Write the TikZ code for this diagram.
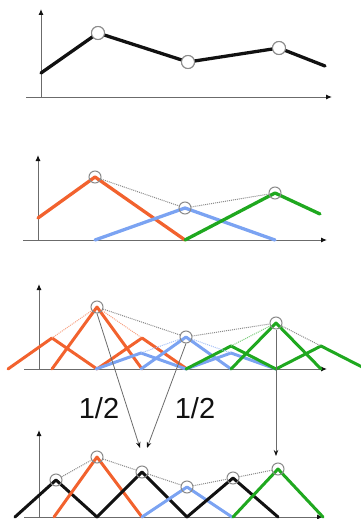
\documentclass[tikz,border=0pt]{standalone}
\usepackage{fontspec}
\setmainfont{Liberation Sans}
\usepackage{xcolor}
\usetikzlibrary{arrows.meta,positioning}
\definecolor{ink}{HTML}{111111}
\definecolor{axisgray}{HTML}{6B6B6B}
\definecolor{ring}{HTML}{8A8A8A}
\definecolor{hatorange}{HTML}{F2622E}
\definecolor{hatblue}{HTML}{7BA3F2}
\definecolor{hatgreen}{HTML}{1FA81F}
\tikzset{
  axis/.style={draw=axisgray, line width=1pt, -{Latex[length=6pt,width=5pt,color=ink]}},
  curve/.style={line width=3.3pt, line join=round, line cap=round},
  fine/.style={curve, line width=3pt},
  ctrl/.style={circle, draw=ring, line width=1pt, minimum size=12pt, inner sep=0pt},
  wctrl/.style={ctrl, fill=white, minimum size=13pt},
  poly/.style={draw=ring, densely dotted, line width=1pt},
  weight/.style={draw=axisgray, line width=0.8pt, -{Stealth[length=6pt,width=4.5pt,color=ink]}},
  frac/.style={font=\fontsize{29}{29}\selectfont, text=ink, inner sep=0pt}
}

\begin{document}
\begin{tikzpicture}[x=1pt,y=-1pt]
  \useasboundingbox (0,0) rectangle (360,519);

  % panel 1: coarse curve
  \draw[axis] (41,97) -- (41,9);
  \draw[axis] (26,97) -- (332,97);
  \coordinate (s1) at (41,73);
  \coordinate (e1) at (325,66);
  \node[wctrl] (a1) at (98,33) {};
  \node[wctrl] (b1) at (188,62) {};
  \node[wctrl] (c1) at (279,48) {};
  \draw[curve, ink] (s1) -- (a1.center) -- (b1.center) -- (c1.center) -- (e1);
  \node[wctrl] at (a1) {};
  \node[wctrl] at (b1) {};
  \node[wctrl] at (c1) {};

  % panel 2: coarse hats
  \draw[axis] (38,240) -- (38,155);
  \draw[axis] (23,240) -- (327,240);
  \draw[curve, hatorange] (38,218) -- (95,177) -- (185,240);
  \draw[curve, hatblue] (95,240) -- (185,208) -- (275,240);
  \draw[curve, hatgreen] (185,240) -- (275,193) -- (320,214);
  \node[ctrl] (a2) at (95,177) {};
  \node[ctrl] (b2) at (185,208) {};
  \node[ctrl] (c2) at (275,193) {};
  \draw[poly] (a2) -- (b2) -- (c2);

  % panel 3: each hat split into three fine hats
  \draw[axis] (39,369) -- (39,284);
  \draw[axis] (24,369) -- (327,369);
  \draw[fine, hatorange] (8,369) -- (52,338) -- (97,369);
  \draw[fine, hatorange] (52,369) -- (97,307) -- (142,369);
  \draw[fine, hatorange] (97,369) -- (142,338) -- (187,369);
  \draw[fine, hatblue] (96,369) -- (141,353) -- (186,369);
  \draw[fine, hatblue] (141,369) -- (186,337) -- (231,369);
  \draw[fine, hatblue] (186,369) -- (231,353) -- (276,369);
  \draw[fine, hatgreen] (186,369) -- (231,346) -- (276,369);
  \draw[fine, hatgreen] (231,369) -- (276,323) -- (321,369);
  \draw[fine, hatgreen] (276,369) -- (321,346) -- (366,369);
  \node[ctrl] (a3) at (97,307) {};
  \node[ctrl] (b3) at (186,337) {};
  \node[ctrl] (c3) at (276,323) {};
  \coordinate (al3) at (52,338);
  \coordinate (ar3) at (142,338);
  \coordinate (bl3) at (141,353);
  \coordinate (br3) at (231,353);
  \coordinate (cl3) at (231,346);
  \coordinate (cr3) at (321,346);
  \draw[poly] (a3) -- (b3) -- (c3) -- (cr3);
  \draw[poly, draw=hatorange!60] (al3) -- (a3) -- (ar3);
  \draw[poly, draw=hatblue!70] (bl3) -- (b3) -- (br3);
  \draw[poly, draw=hatgreen!60] (cl3) -- (c3);

  % panel 4: refined hats
  \draw[axis] (39,517) -- (39,430);
  \draw[axis] (24,517) -- (323,517);
  \draw[fine, ink] (15,517) -- (56,480) -- (97,517);
  \draw[fine, hatorange] (54,517) -- (97,457) -- (142,517);
  \draw[fine, ink] (97,517) -- (142,472) -- (187,517);
  \draw[fine, hatblue] (142,517) -- (187,487) -- (232,517);
  \draw[fine, ink] (187,517) -- (233,478) -- (278,517);
  \draw[fine, hatgreen] (233,517) -- (278,469) -- (323,517);
  \node[ctrl] (p1) at (56,480) {};
  \node[ctrl] (p2) at (97,457) {};
  \node[ctrl] (p3) at (142,472) {};
  \node[ctrl] (p4) at (187,487) {};
  \node[ctrl] (p5) at (233,478) {};
  \node[ctrl] (p6) at (278,469) {};
  \draw[poly] (p1) -- (p2) -- (p3) -- (p4) -- (p5) -- (p6);

  % averaging arrows
  \coordinate (tl) at (140,448);
  \coordinate (tr) at (147,448);
  \coordinate (tc) at (276,456);
  \draw[weight] (a3.south) -- (tl);
  \draw[weight] (b3.south) -- (tr);
  \draw[weight] (c3.south) -- (tc);
  \node[frac] (w1) at (99,408) {1/2};
  \node[frac] (w2) at (195,408) {1/2};
\end{tikzpicture}
\end{document}
